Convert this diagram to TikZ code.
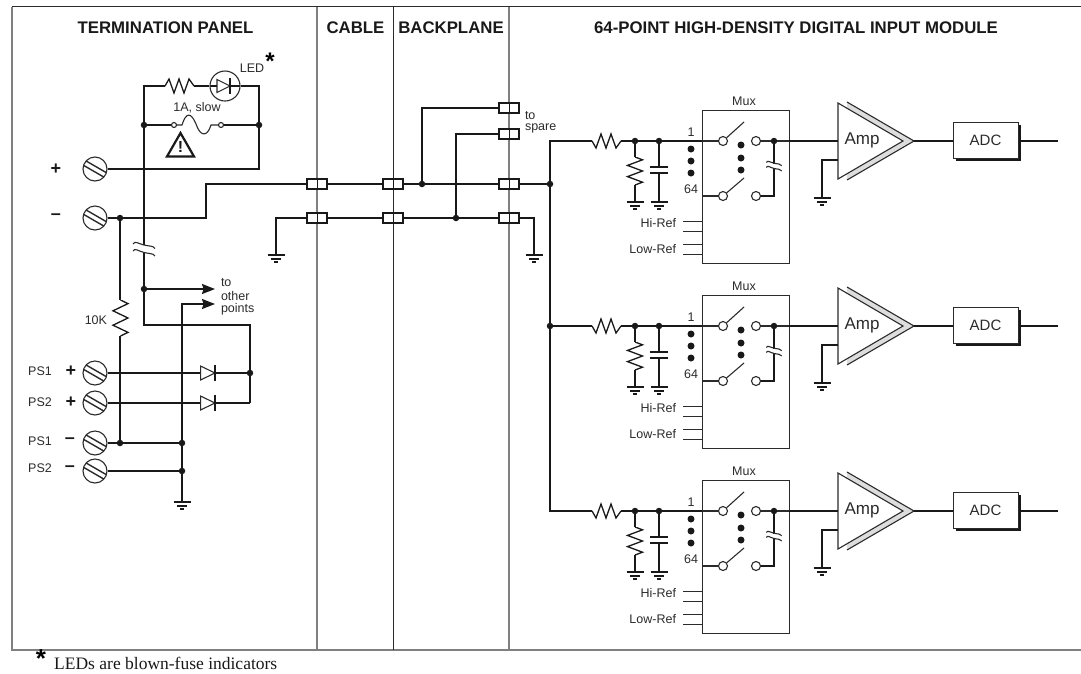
\documentclass[tikz,border=0pt]{standalone}
\usepackage{fontspec}
\setmainfont{Liberation Sans}
\newfontfamily\footfont{Liberation Serif}
\usetikzlibrary{arrows.meta,shadows}
\definecolor{inkgray}{HTML}{2B2B2B}
\definecolor{rulegray}{HTML}{808080}
\definecolor{bandgray}{HTML}{DDDDDD}

\begin{document}
\begin{tikzpicture}[x=1pt,y=-1pt,line join=miter,
  wire/.style={line width=1.7pt,draw=black!90},
  fine/.style={line width=1.1pt,draw=inkgray},
  rule/.style={line width=1.1pt,draw=rulegray},
  txt/.style={font=\fontsize{12.5}{14}\selectfont,text=inkgray,inner sep=0,outer sep=0},
  head/.style={font=\fontsize{16.8}{18}\selectfont\bfseries,text=black!90,inner sep=0},
  sign/.style={font=\fontsize{18}{18}\selectfont\bfseries,text=black!90,inner sep=0},
  jn/.style={circle,fill=black!90,inner sep=0,minimum size=6.5pt},
  bigdot/.style={circle,fill=black!90,inner sep=0,minimum size=7pt},
  sw/.style={circle,draw=inkgray,fill=white,line width=1.1pt,inner sep=0,minimum size=9pt},
  term/.style={circle,draw=inkgray,fill=white,line width=1.1pt,inner sep=0,minimum size=5pt},
  screw/.style={circle,draw=inkgray,line width=1.1pt,fill=white,inner sep=0,minimum size=24pt,
    path picture={\draw[line width=1.4pt] (path picture bounding box.center) ++(-10.9,-9.2) -- ++(24.2,14);
      \draw[line width=1.4pt] (path picture bounding box.center) ++(-13.4,-4.8) -- ++(24.2,14);}},
  conn/.style={rectangle,draw=black!90,fill=white,line width=1.6pt,inner sep=0,minimum width=20pt,minimum height=10pt,
    path picture={\draw[line width=1pt,draw=black!90] (path picture bounding box.north) -- (path picture bounding box.south);}},
  resh/.style={rectangle,inner sep=0,outer sep=0,minimum width=29pt,minimum height=19pt,
    path picture={\draw[line width=1.3pt,draw=black!90] (path picture bounding box.west) -- ++(4,#1*7) -- ++(5,-#1*14) -- ++(5,#1*14) -- ++(5,-#1*14) -- ++(5,#1*14) -- ++(5,-#1*7);}},
  resv/.style={rectangle,inner sep=0,outer sep=0,minimum width=19pt,minimum height={5*#1},
    path picture={\draw[line width=1.3pt,draw=black!90] (path picture bounding box.north) -- ++(7.5,#1/2) -- ++(-15,#1) -- ++(15,#1) -- ++(-15,#1) -- ++(15,#1) -- ++(-7.5,#1/2);}},
  capn/.style={rectangle,inner sep=0,outer sep=0,minimum width=18pt,minimum height=7pt,
    path picture={\draw[wire] (path picture bounding box.center) ++(-9,-2.8) -- ++(18,0);
      \draw[wire] (path picture bounding box.center) ++(-9,2.8) -- ++(18,0);}},
  dio/.style={rectangle,inner sep=0,outer sep=0,minimum width=16pt,minimum height=17pt,
    path picture={\draw[fine] (path picture bounding box.center) ++(-7.5,-7) -- ++(14.5,7) -- ++(-14.5,7) -- cycle;
      \draw[wire] (path picture bounding box.center) ++(7.2,-8) -- ++(0,16);}},
  ledn/.style={circle,draw=inkgray,line width=1.1pt,inner sep=0,minimum size=30pt,
    path picture={\draw[fine] (path picture bounding box.center) ++(-8,-6.5) -- ++(13,6.5) -- ++(-13,6.5) -- cycle;
      \draw[wire] (path picture bounding box.center) ++(5.3,-8) -- ++(0,16);
      \draw[wire] (path picture bounding box.center) ++(-15,0) -- ++(7,0);
      \draw[wire] (path picture bounding box.center) ++(5.3,0) -- ++(10,0);}},
  muxbox/.style={rectangle,draw=inkgray,fill=white,line width=0.9pt,inner sep=0,minimum width=87pt,minimum height=153pt},
  adcbox/.style={rectangle,draw=inkgray,fill=white,line width=1pt,inner sep=0,minimum width=65pt,minimum height=36pt,
    font=\fontsize{15}{16}\selectfont,text=inkgray,general shadow={fill=black!90,shadow xshift=2.5pt,shadow yshift=-2.5pt}},
  pics/gnd/.style={code={
    \draw[wire] (-8.5,0) -- (8.5,0);
    \draw[wire] (-5,3.7) -- (5,3.7);
    \draw[wire] (-2,7.2) -- (2,7.2);}},
  pics/brk/.style={code={
    \draw[fine] (-11,-5) .. controls (-9,-8.5) and (-6,-5.5) .. (0,-4) .. controls (6,-2.5) and (9,-3.5) .. (11,-0.5);
    \draw[fine] (-11,2) .. controls (-9,-1.5) and (-6,2) .. (0,3.5) .. controls (6,5) and (9,4) .. (11,7);}}
  ]
\useasboundingbox (0,0) rectangle (1081,673);

% frame
\draw[rule] (12,6.5) -- (12,650) -- (1081,650);
\draw[line width=1pt,draw=inkgray] (12,6.5) -- (1081,6.5);
\draw[rule] (317,6.5) -- (317,650);
\draw[line width=0.8pt,draw=inkgray] (393,6.5) -- (393,650);
\draw[rule] (509,6.5) -- (509,650);

\node[head] (hTerm) at (165.5,28) {TERMINATION PANEL};
\node[head] (hCable) at (355.5,28) {CABLE};
\node[head] (hBack) at (451,28) {BACKPLANE};
\node[head] (hMod) at (796,28) {64-POINT HIGH-DENSITY DIGITAL INPUT MODULE};

% termination panel
\foreach \n/\y in {Plus/169,Minus/218,PsA/373,PsB/403,PsC/443,PsD/471}{%
  \node[screw] (s\n) at (95,\y) {};}
\node[sign] (pPlus) at (56,169) {+};
\node[sign] (pMinus) at (56,217) {–};
\node[sign] (pPsA) at (71,371) {+};
\node[sign] (pPsB) at (71,402) {+};
\node[sign] (pPsC) at (70,441) {–};
\node[sign] (pPsD) at (70,469) {–};
\node[txt] (tPsA) at (40,371) {PS1};
\node[txt] (tPsB) at (40,402) {PS2};
\node[txt] (tPsC) at (40,441) {PS1};
\node[txt] (tPsD) at (40,468) {PS2};

\coordinate (cTopL) at (144,86);
\coordinate (cTopR) at (259,86);
\node[resh=-1] (rLed) at (179.5,86) {};
\node[ledn] (led) at (225,86) {};
\node[txt] (tLed) at (252,68) {LED};
\node[font=\fontsize{24}{24}\selectfont\bfseries,inner sep=0] (tStar) at (270,61) {*};
\node[jn] (jFuseL) at (144,125) {};
\node[jn] (jFuseR) at (259,125) {};
\node[term] (fuseA) at (174,125) {};
\node[term] (fuseB) at (221,125) {};
\node[txt] (tFuse) at (197,108) {1A, slow};
\draw[wire] (jFuseR) -- (cTopR) -- (led);
\draw[wire] (led) -- (rLed);
\draw[wire] (rLed) -- (cTopL) -- (jFuseL);
\draw[wire] (jFuseL) -- (fuseA);
\draw[wire] (fuseB) -- (jFuseR);
\draw[fine] (fuseA) -- (182,125) .. controls (186,112) and (191,112) .. (196,124) .. controls (200,136) and (207,138) .. (211,125) -- (fuseB);
\draw[line width=2.2pt,draw=black!90] (180.5,133) -- (194,156.5) -- (167,156.5) -- cycle;
\node[font=\fontsize{16}{16}\selectfont\bfseries,text=black!90,inner sep=0] (warn) at (180.5,147) {!};
\draw[wire] (sPlus) -| (jFuseR);

\node[conn] (a1) at (317,184) {};
\node[conn] (a2) at (317,218) {};
\node[conn] (b1) at (393,184) {};
\node[conn] (b2) at (393,218) {};
\node[conn] (c1) at (509,184) {};
\node[conn] (c2) at (509,218) {};
\node[conn] (spA) at (509,108) {};
\node[conn] (spB) at (509,134) {};
\node[txt,anchor=west] (tTo) at (525,116) {to};
\node[txt,anchor=west] (tSpare) at (525,128) {spare};

\node[jn] (jMinus) at (120,218) {};
\draw[wire] (sMinus) -- (jMinus) -- (206,218) |- (a1);
\coordinate (gA) at (276,255);
\draw[wire] (a2) -| (gA);
\pic at (gA) {gnd};
\draw[wire] (a1) -- (b1);
\draw[wire] (a2) -- (b2);
\node[jn] (jSpA) at (422,184) {};
\node[jn] (jSpB) at (456,218) {};
\node[jn] (jBus) at (550,184) {};
\node[jn] (jBusB) at (550,326) {};
\draw[wire] (b1) -- (jSpA) -- (c1) -- (jBus);
\draw[wire] (b2) -- (jSpB) -- (c2);
\draw[wire] (jSpA) |- (spA);
\draw[wire] (jSpB) |- (spB);
\coordinate (gB) at (534,255);
\draw[wire] (c2) -| (gB);
\pic at (gB) {gnd};

\node[jn] (jOut) at (144,289) {};
\coordinate (cOutR) at (250,325);
\node[jn] (jPs) at (250,373) {};
\coordinate (cPsB) at (250,403);
\coordinate (arA) at (215,289);
\coordinate (arB) at (215,304);
\draw[wire] (jFuseL) -- (144,245);
\draw[wire] (144,252.5) -- (jOut) |- (cOutR) -- (jPs) -- (cPsB);
\pic at (144,249) {brk};
\draw[wire,-{Stealth[length=13pt,width=10pt,inset=1.5pt]}] (jOut) -- (arA);
\node[txt,anchor=west] (tTo2) at (221,283) {to};
\node[txt,anchor=west] (tOther) at (221,296) {other};
\node[txt,anchor=west] (tPoints) at (221,309) {points};

\node[dio] (dA) at (208,373) {};
\node[dio] (dB) at (208,403) {};
\draw[wire] (sPsA) -- (dA) -- (jPs);
\draw[wire] (sPsB) -- (dB) -- (cPsB);

\node[resv=7.2] (rTen) at (120.5,318) {};
\node[txt,anchor=east] (tTen) at (107,320) {10K};
\node[jn] (jPsC) at (120,443) {};
\node[jn] (jGndA) at (182,443) {};
\node[jn] (jGndB) at (182,471) {};
\coordinate (gC) at (182,502);
\draw[wire] (jMinus) -- (120,300) (120,336) -- (jPsC);
\draw[wire] (sPsC) -- (jPsC) -- (jGndA);
\draw[wire] (sPsD) -- (jGndB);
\draw[wire,-{Stealth[length=13pt,width=10pt,inset=1.5pt]}] (gC) -- (jGndB) -- (jGndA) |- (arB);
\pic at (gC) {gnd};

% input modules
\foreach \m/\dy in {a/0,b/185,c/370}{%
\begin{scope}[yshift=-\dy pt]
  \node[resh=1] (r\m) at (606.5,141) {};
  \node[jn] (ja\m) at (635,141) {};
  \node[jn] (jb\m) at (659,141) {};
  \node[resv=5.6] (rv\m) at (635,171) {};
  \node[capn] (cp\m) at (659,170) {};
  \coordinate (ga\m) at (635,202);
  \coordinate (gb\m) at (659,202);
  \coordinate (gc\m) at (822,198);
  \draw[wire] (r\m) -- (ja\m) -- (jb\m) -- (702,141);
  \draw[wire] (ja\m) -- (rv\m) -- (ga\m);
  \draw[wire] (jb\m) -- (cp\m) -- (gb\m);
  \pic at (ga\m) {gnd};
  \pic at (gb\m) {gnd};
  \node[muxbox] (mux\m) at (745.5,186.5) {};
  \node[txt] (tMux\m) at (744,101) {Mux};
  \node[txt] (tOne\m) at (691,132) {1};
  \node[txt] (tSix\m) at (691,189) {64};
  \foreach \y in {149,161,173}{\node[bigdot] (da\m\y) at (691,\y) {};}
  \foreach \y in {145,158,170}{\node[bigdot] (db\m\y) at (741,\y) {};}
  \node[sw] (sa\m) at (723,141) {};
  \node[sw] (sb\m) at (723,196) {};
  \node[sw] (sc\m) at (756,141) {};
  \node[sw] (sd\m) at (756,196) {};
  \coordinate (ea\m) at (744,122);
  \coordinate (eb\m) at (744,178);
  \draw[fine] (mux\m.west |- sa\m) -- (sa\m);
  \draw[fine] (mux\m.west |- sb\m) -- (sb\m);
  \draw[fine] (sa\m) -- (ea\m);
  \draw[fine] (sb\m) -- (eb\m);
  \node[jn] (jc\m) at (774,141) {};
  \draw[fine] (sc\m) -- (jc\m) -- (mux\m.east |- jc\m);
  \draw[wire] (jc\m) -- (774,163.5);
  \draw[wire] (774,168.5) |- (sd\m);
  \pic[scale=.7] at (774,166) {brk};
  \foreach \y in {221,231,244,254}{\draw[line width=0.9pt,draw=inkgray] (683,\y) -- (702,\y);}
  \node[txt,anchor=east] (tHi\m) at (676,223) {Hi-Ref};
  \node[txt,anchor=east] (tLow\m) at (676,249) {Low-Ref};
  % amplifier
  \fill[bandgray] (847,102) -- (914,141) -- (847,180) -- cycle;
  \draw[fine] (847,102) -- (914,141) -- (847,180);
  \draw[fine,fill=white] (838,103) -- (903,141) -- (838,179) -- cycle;
  \node[font=\fontsize{17}{18}\selectfont,text=inkgray,inner sep=0] (amp\m) at (862,140) {Amp};
  \coordinate (ia\m) at (838,141);
  \coordinate (ib\m) at (838,160);
  \coordinate (oa\m) at (914,141);
  \draw[wire] (mux\m.east |- jc\m) -- (ia\m);
  \draw[wire] (ib\m) -| (gc\m);
  \pic at (gc\m) {gnd};
  \node[adcbox] (adc\m) at (985.5,140) {ADC};
  \coordinate (oe\m) at (1058,141);
  \draw[wire] (oa\m) -- (adc\m.west |- oa\m);
  \draw[wire] (adc\m.east |- oa\m) -- (oe\m);
\end{scope}}
\draw[wire] (jBus) |- (ra);
\draw[wire] (jBus) -- (jBusB) -- (rb);
\draw[wire] (jBusB) |- (rc);

% footnote
\node[font=\fontsize{26}{26}\selectfont\bfseries,inner sep=0] (fStar) at (41,659) {*};
\node[font=\fontsize{17.5}{20}\selectfont\footfont,text=black!90,inner sep=0,anchor=west] (fNote) at (54,663) {LEDs are blown-fuse indicators};
\end{tikzpicture}
\end{document}
